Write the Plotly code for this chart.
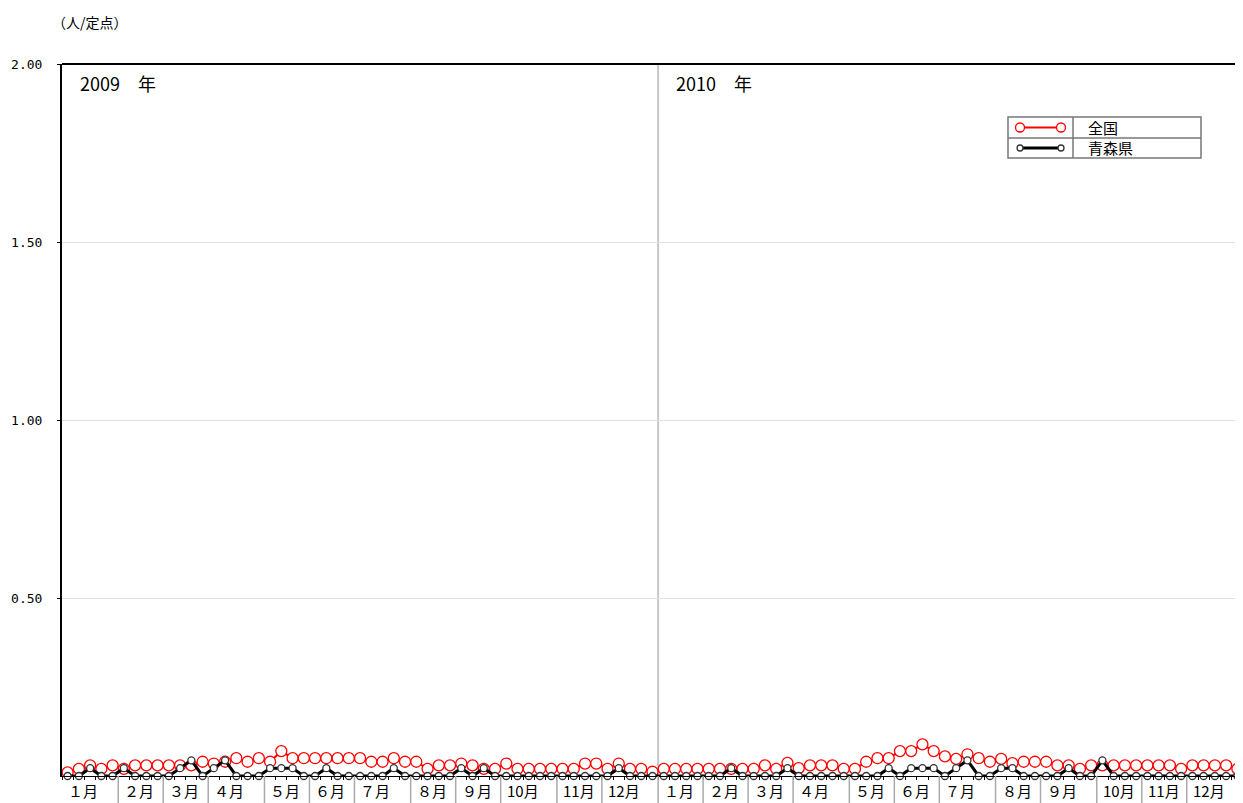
import plotly.graph_objects as go

# ---------------- data ----------------
national_2009 = [0.01, 0.02, 0.03, 0.02, 0.03, 0.02, 0.03, 0.03, 0.03, 0.03,
                 0.03, 0.03, 0.04, 0.035, 0.04, 0.05, 0.04, 0.05, 0.04, 0.07,
                 0.05, 0.05, 0.05, 0.05, 0.05, 0.05, 0.05, 0.04, 0.04, 0.05,
                 0.04, 0.04, 0.02, 0.03, 0.03, 0.035, 0.03, 0.02, 0.02, 0.035,
                 0.02, 0.02, 0.02, 0.02, 0.02, 0.02, 0.035, 0.035, 0.02, 0.035,
                 0.02, 0.02, 0.012]
national_2010 = [0.02, 0.02, 0.02, 0.02, 0.02, 0.02, 0.02, 0.02, 0.02, 0.03,
                 0.02, 0.037, 0.022, 0.03, 0.03, 0.03, 0.02, 0.02, 0.04, 0.05,
                 0.05, 0.07, 0.07, 0.089, 0.07, 0.055, 0.048, 0.061, 0.05, 0.04,
                 0.048, 0.036, 0.04, 0.04, 0.04, 0.03, 0.03, 0.02, 0.03, 0.03,
                 0.03, 0.03, 0.03, 0.03, 0.03, 0.03, 0.02, 0.03, 0.03, 0.03,
                 0.03, 0.02]
aomori_2009 = [0, 0, 0.022, 0, 0, 0.022, 0, 0, 0, 0,
               0.022, 0.044, 0, 0.022, 0.044, 0, 0, 0, 0.022, 0.022,
               0.022, 0, 0, 0.022, 0, 0, 0, 0, 0, 0.022,
               0, 0, 0, 0, 0, 0.022, 0, 0.022, 0, 0,
               0, 0, 0, 0, 0, 0, 0, 0, 0, 0.022,
               0, 0, 0]
aomori_2010 = [0, 0, 0, 0, 0, 0, 0.022, 0, 0, 0,
               0, 0.022, 0, 0, 0, 0, 0, 0, 0, 0,
               0.022, 0, 0.022, 0.022, 0.022, 0, 0.022, 0.044, 0, 0,
               0.022, 0.022, 0, 0, 0, 0, 0.022, 0, 0, 0.044,
               0, 0, 0, 0, 0, 0, 0, 0, 0, 0,
               0, 0]

years = ["2009", "2010"]
weeks_per_year = [53, 52]
month_start_2009 = [0, 5, 9, 13, 18, 22, 26, 31, 35, 39, 44, 48]
month_start_2010 = [0, 4, 8, 12, 17, 21, 25, 30, 34, 39, 43, 47]
month_labels = ["１月", "２月", "３月", "４月", "５月", "６月",
                "７月", "８月", "９月", "10月", "11月", "12月"]
series_names = ["全国", "青森県"]
y_tickvals = [0.5, 1.0, 1.5, 2.0]
y_ticktext = ["0.50", "1.00", "1.50", "2.00"]
y_unit = "（人/定点）"

# ---------------- layout helpers ----------------
# the page body has an 8px margin, so the figure is drawn 8px in and down
OFF = 8
W, H = 1243 - OFF, 803 - OFF
ML, MR, MT, MB = 62 - OFF, 0, 64 - OFF, 27
PW, PH = W - ML - MR, H - MT - MB
CJK = "Noto Sans CJK JP"


def px(x):
    # x in window pixels -> paper
    return (x - OFF - ML) / PW


def py(y):
    # y in window pixels -> paper
    return (H + OFF - MB - y) / PH


n_total = sum(weeks_per_year)
x_all = [i + 0.5 for i in range(n_total)]
national = national_2009 + national_2010
aomori = aomori_2009 + aomori_2010

fig = go.Figure()
fig.add_trace(go.Scatter(
    x=x_all, y=national, mode="lines+markers", name=series_names[0],
    line=dict(color="#ff0000", width=2),
    marker=dict(symbol="circle", size=11, color="white",
                line=dict(color="#ff0000", width=1.3)),
    cliponaxis=False, showlegend=False))
fig.add_trace(go.Scatter(
    x=x_all, y=aomori, mode="lines+markers", name=series_names[1],
    line=dict(color="#000000", width=3),
    marker=dict(symbol="circle", size=7, color="white",
                line=dict(color="#333333", width=1.3)),
    cliponaxis=False, showlegend=False))

shapes = []
annotations = []

# year divider
shapes.append(dict(type="line", xref="x", yref="paper", x0=weeks_per_year[0],
                   x1=weeks_per_year[0], y0=0, y1=1,
                   line=dict(color="#c8c8c8", width=2), layer="below"))
# top border
shapes.append(dict(type="line", xref="paper", yref="paper", x0=0, x1=1,
                   y0=1, y1=1, line=dict(color="#000000", width=2)))

# month separators and labels
offsets = [0, weeks_per_year[0]]
for yi, starts in enumerate([month_start_2009, month_start_2010]):
    off = offsets[yi]
    for m, s in enumerate(starts):
        xs = off + s
        if xs > 0:
            shapes.append(dict(type="line", xref="x", yref="paper", x0=xs, x1=xs,
                               y0=0, y1=-MB / PH,
                               line=dict(color="#aaaaaa", width=1.5)))
        annotations.append(dict(x=xs, y=py(791), xref="x", yref="paper",
                                text=month_labels[m], showarrow=False,
                                xanchor="left", yanchor="middle", xshift=4,
                                font=dict(family=CJK, size=15, color="#000")))
    # year label
    annotations.append(dict(x=off, y=py(83), xref="x", yref="paper",
                            text=years[yi] + "　年", showarrow=False,
                            xanchor="left", yanchor="middle", xshift=16,
                            font=dict(family=CJK, size=18, color="#000")))

# unit label
annotations.append(dict(x=px(50), y=py(22), xref="paper", yref="paper",
                        text=y_unit, showarrow=False, xanchor="left",
                        yanchor="middle",
                        font=dict(family=CJK, size=14, color="#000")))

# custom legend (table style)
lx0, lx1, lxm = 1008, 1201, 1073
ly0, ly1, lym = 117, 158, 138
gray = "#777777"
shapes.append(dict(type="rect", xref="paper", yref="paper", x0=px(lx0), x1=px(lx1),
                   y0=py(ly1), y1=py(ly0), line=dict(color=gray, width=1.5),
                   fillcolor="white"))
shapes.append(dict(type="line", xref="paper", yref="paper", x0=px(lx0), x1=px(lx1),
                   y0=py(lym), y1=py(lym), line=dict(color=gray, width=1.5)))
shapes.append(dict(type="line", xref="paper", yref="paper", x0=px(lxm), x1=px(lxm),
                   y0=py(ly0), y1=py(ly1), line=dict(color=gray, width=1.5)))
rows = [(127.5, "#ff0000", 2, 4.5, "#ff0000"), (148, "#000000", 3, 3, "#333333")]
for i, (ry, lc, lw, r, mc) in enumerate(rows):
    shapes.append(dict(type="line", xref="paper", yref="paper", x0=px(1020),
                       x1=px(1061), y0=py(ry), y1=py(ry), line=dict(color=lc, width=lw)))
    for cx in (1020, 1061):
        shapes.append(dict(type="circle", xref="paper", yref="paper",
                           x0=px(cx - r), x1=px(cx + r), y0=py(ry + r), y1=py(ry - r),
                           line=dict(color=mc, width=1.3), fillcolor="white"))
    annotations.append(dict(x=px(1086), y=py(ry), xref="paper", yref="paper",
                            text=series_names[i], showarrow=False, xanchor="left",
                            yanchor="middle",
                            font=dict(family=CJK, size=15, color="#000")))

fig.update_layout(
    width=W, height=H,
    margin=dict(l=ML, r=MR, t=MT, b=MB),
    paper_bgcolor="white", plot_bgcolor="white",
    shapes=shapes, annotations=annotations,
    xaxis=dict(range=[0, n_total], showgrid=False, zeroline=False,
               showline=True, linecolor="#000", linewidth=1,
               tickmode="array", tickvals=list(range(0, n_total + 1)),
               ticks="outside", ticklen=3, tickcolor="#000",
               showticklabels=False, fixedrange=True),
    yaxis=dict(range=[0, 2], tickmode="array", tickvals=y_tickvals,
               ticktext=y_ticktext, showgrid=True, gridcolor="#e0e0e0",
               gridwidth=1, zeroline=False, showline=True, linecolor="#000",
               linewidth=2, ticks="outside", ticklen=3, tickcolor="#000",
               ticklabelstandoff=12,
               tickfont=dict(family="DejaVu Sans Mono", size=13, color="#000"),
               fixedrange=True),
)

fig.write_html("out.html")
